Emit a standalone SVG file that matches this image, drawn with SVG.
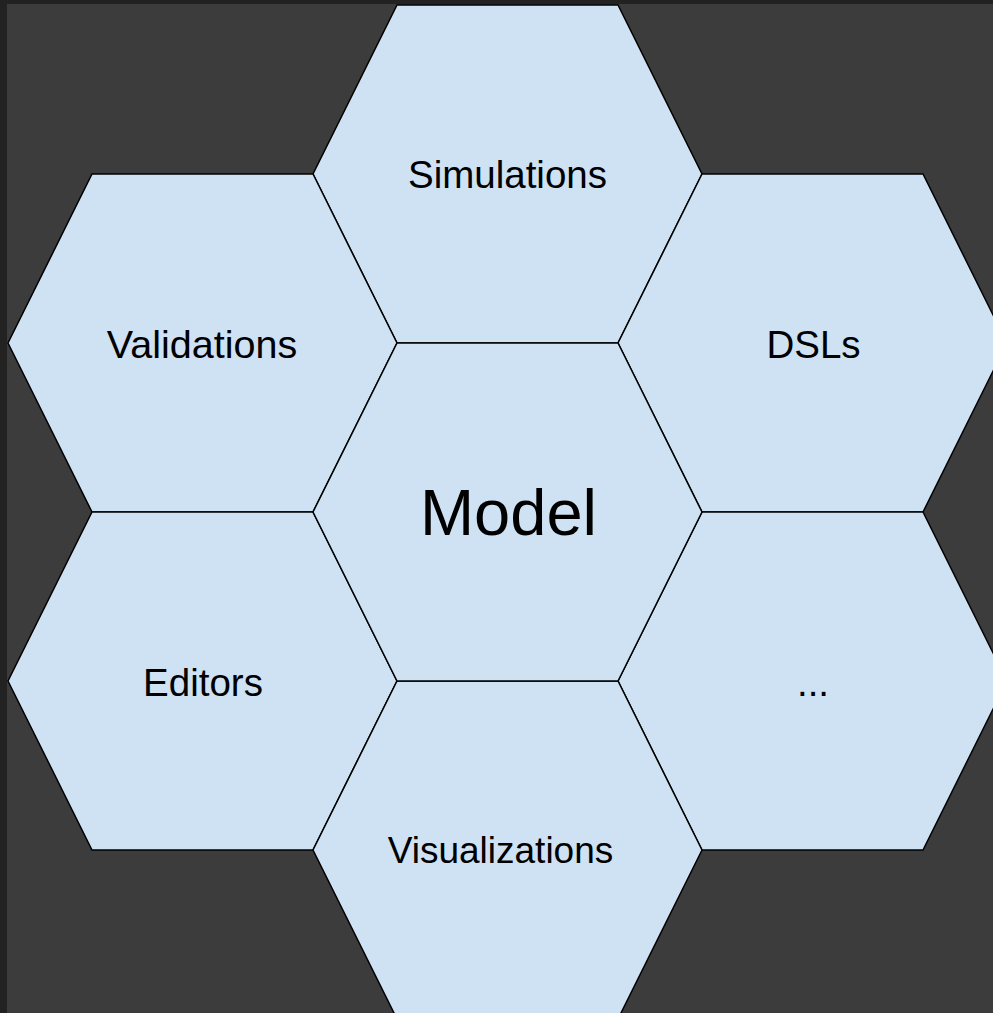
<svg xmlns="http://www.w3.org/2000/svg" width="993" height="1013" viewBox="0 0 993 1013">
<style>
.hex{fill:#cfe2f3;stroke:#000;stroke-width:1.5;stroke-linejoin:miter}
.lbl{font-family:"Liberation Sans",Arial,sans-serif;font-size:38.5px;fill:#000;text-anchor:middle}
.big{font-size:65px}
</style>
<rect x="0" y="0" width="993" height="1013" fill="#222222"/>
<rect x="7" y="4" width="986" height="1009" fill="#3c3c3c"/>
<g id="simulations"><polygon class="hex" points="397,5 618,5 702,174 618,343 397,343 313,174"/><text class="lbl" x="507.5" y="188">Simulations</text></g>
<g id="validations"><polygon class="hex" points="92,174 313,174 397,343 313,512 92,512 8,343"/><text class="lbl" x="202" y="358" style="font-size:39.5px">Validations</text></g>
<g id="dsls"><polygon class="hex" points="702,174 923,174 1007,343 923,512 702,512 618,343"/><text class="lbl" x="813.5" y="358">DSLs</text></g>
<g id="editors"><polygon class="hex" points="92,512 313,512 397,681 313,850 92,850 8,681"/><text class="lbl" x="203" y="696">Editors</text></g>
<g id="more"><polygon class="hex" points="702,512 923,512 1007,681 923,850 702,850 618,681"/><text class="lbl" x="813" y="696">...</text></g>
<g id="visualizations"><polygon class="hex" points="397,681 618,681 702,850 618,1019 397,1019 313,850"/><text class="lbl" x="500.5" y="863" style="font-size:37px">Visualizations</text></g>
<g id="model"><polygon class="hex" points="397,343 618,343 702,512 618,681 397,681 313,512"/><text class="lbl big" x="508.5" y="535">Model</text></g>
<g id="connectors"></g>
</svg>
